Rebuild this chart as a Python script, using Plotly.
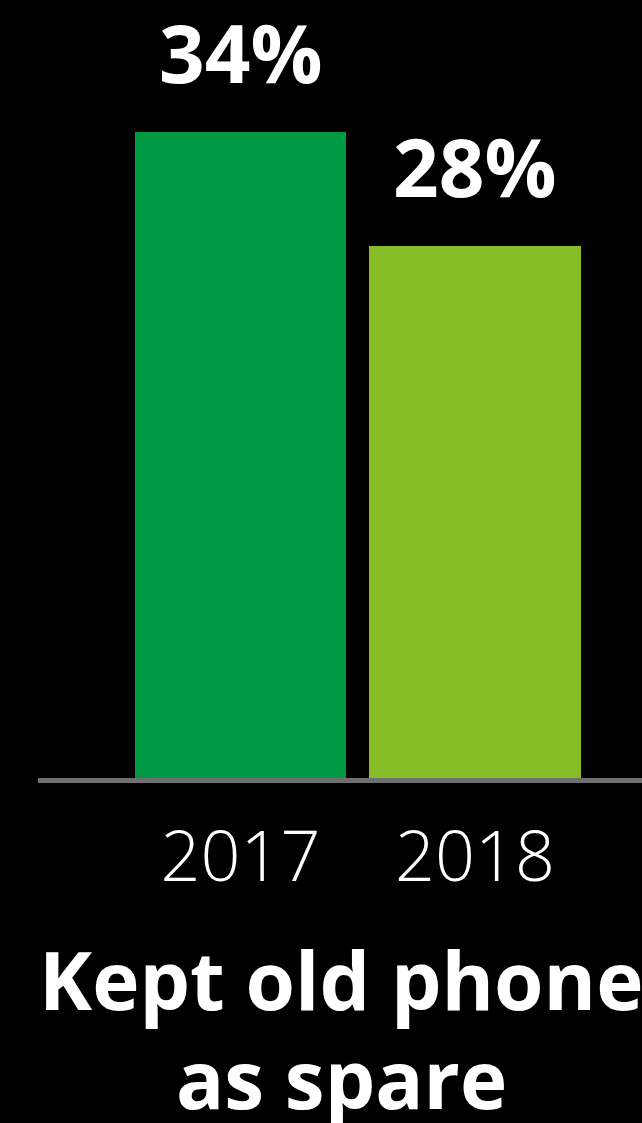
import plotly.graph_objects as go

# Share of respondents who kept their old phone as a spare
years = ["2017", "2018"]
shares = [34, 28]
bar_colors = ["#009a44", "#86bc25"]
title_lines = ["Kept old phone", "as spare"]

positions = list(range(len(years)))

fig = go.Figure()
fig.add_trace(go.Bar(
    x=positions,
    y=shares,
    marker=dict(color=bar_colors, line=dict(width=0)),
    width=0.9,
    hoverinfo="skip",
))

# value labels above each bar
for pos, v in zip(positions, shares):
    fig.add_annotation(
        x=pos, y=v, xref="x", yref="y",
        text=f"<b>{v}%</b>",
        showarrow=False,
        yanchor="bottom",
        yshift=24,
        font=dict(family="Open Sans", size=80, color="white"),
    )

# caption below the axis, one annotation per line
for i, line in enumerate(title_lines):
    fig.add_annotation(
        x=0.5017, y=-0.1857 - 0.126 * i, xref="paper", yref="paper",
        text=f"<b>{line}</b>",
        showarrow=False,
        xanchor="center", yanchor="top",
        font=dict(family="Open Sans", size=80, color="white"),
    )

fig.update_layout(
    width=642, height=1123,
    margin=dict(l=38, r=0, t=0, b=345),
    paper_bgcolor="black",
    plot_bgcolor="black",
    showlegend=False,
    bargap=0,
    xaxis=dict(
        range=[-0.8635, 1.712],
        tickmode="array", tickvals=positions, ticktext=years,
        showgrid=False, zeroline=False,
        showline=True, linecolor="#6f6f71", linewidth=5,
        ticks="", ticklabelstandoff=14,
        tickfont=dict(family="Open Sans", size=70, color="white", weight=300),
        fixedrange=True,
    ),
    yaxis=dict(
        range=[0, 40.95],
        visible=False,
        showgrid=False, zeroline=False,
        fixedrange=True,
    ),
)

fig.write_html("out.html", config={"displayModeBar": False})
